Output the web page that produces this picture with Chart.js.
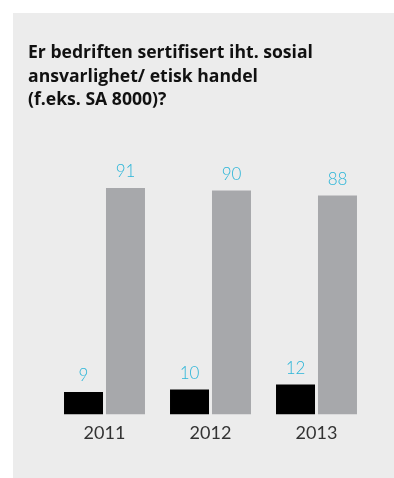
<!DOCTYPE html>
<html>
<head>
<meta charset="utf-8">
<script src="https://cdn.jsdelivr.net/npm/chart.js@4/dist/chart.umd.min.js"></script>
<style>
  html, body { margin: 0; padding: 0; background: #ffffff; }
  #panel {
    position: absolute; left: 13px; top: 13px; width: 381px; height: 465px;
    background: #ececec;
  }
  #title {
    position: absolute; left: 15px; top: 27px; margin: 0;
    font-family: "Open Sans", sans-serif; font-weight: 700;
    font-size: 17.6px; line-height: 23.5px; color: #111;
  }
  #chart { position: absolute; left: 0; top: 0; }
</style>
</head>
<body>
<div id="panel">
  <canvas id="chart" width="381" height="465"></canvas>
  <div id="title">Er bedriften sertifisert iht. sosial<br>ansvarlighet/ etisk handel<br>(f.eks. SA 8000)?</div>
</div>
<script>
// Survey answers per year (percent)
const years = ['2011', '2012', '2013'];
const yesValues = [9, 10, 12];
const noValues = [91, 90, 88];

// Writes each bar's value just above its top
const valueLabels = {
  id: 'valueLabels',
  afterDatasetsDraw(chart) {
    const ctx = chart.ctx;
    ctx.save();
    ctx.fillStyle = '#2bb5d8';
    ctx.font = '300 17px Lato, "Open Sans", sans-serif';
    ctx.textAlign = 'center';
    ctx.textBaseline = 'alphabetic';
    chart.data.datasets.forEach((ds, i) => {
      chart.getDatasetMeta(i).data.forEach((bar, j) => {
        ctx.fillText(String(ds.data[j]), bar.x, bar.y - 11);
      });
    });
    ctx.restore();
  }
};

new Chart(document.getElementById('chart'), {
  type: 'bar',
  data: {
    labels: years,
    datasets: [
      { label: 'Ja', data: yesValues, backgroundColor: '#000000' },
      { label: 'Nei', data: noValues, backgroundColor: '#a7a8ab' }
    ]
  },
  options: {
    responsive: false,
    animation: false,
    layout: { padding: { left: 38.5, right: 24.5, top: 152.7, bottom: 26 } },
    categoryPercentage: 0.792,
    barPercentage: 0.929,
    plugins: { legend: { display: false }, tooltip: { enabled: false }, title: { display: false } },
    scales: {
      y: { display: false, min: 0, max: 100 },
      x: {
        grid: { display: false, drawTicks: false },
        border: { display: false },
        ticks: {
          color: '#333333',
          padding: 8,
          font: { family: 'Lato, "Open Sans", sans-serif', size: 18 }
        }
      }
    }
  },
  plugins: [valueLabels]
});
</script>
</body>
</html>
